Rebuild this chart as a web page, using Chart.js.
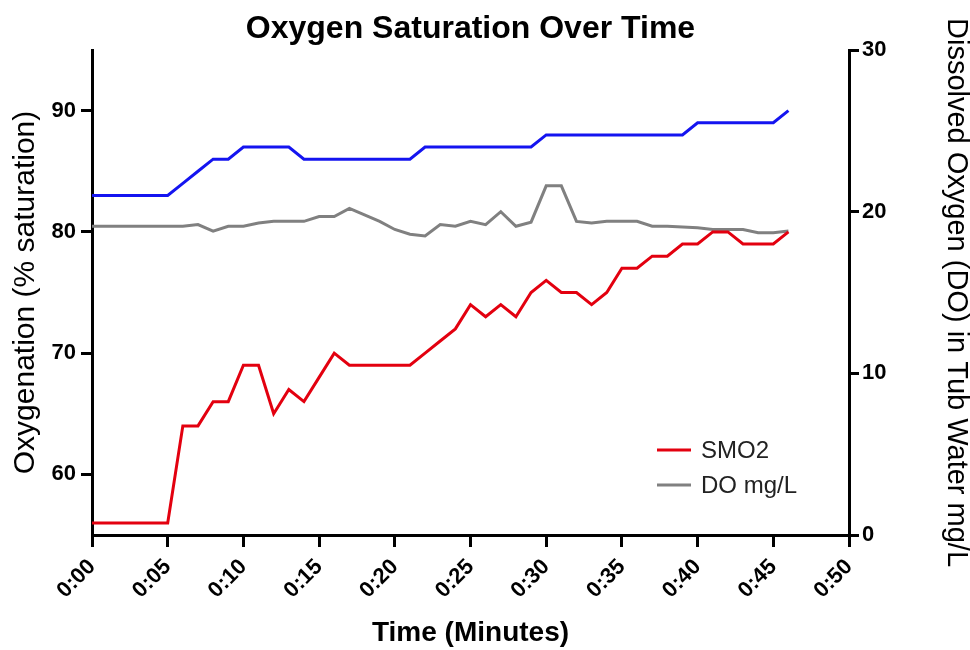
<!DOCTYPE html>
<html>
<head>
<meta charset="utf-8">
<script src="https://cdn.jsdelivr.net/npm/chart.js@4.4.1/dist/chart.umd.min.js"></script>
<style>
  html, body { margin: 0; padding: 0; background: #ffffff; }
  #wrap { width: 970px; height: 650px; position: relative; }
</style>
</head>
<body>
<div id="wrap"><canvas id="c" width="970" height="650"></canvas></div>
<script>
// Time in minutes (one reading per minute)
const minutes = [0,1,2,3,4,5,6,7,8,9,10,11,12,13,14,15,16,17,18,19,20,21,22,23,24,25,26,27,28,29,30,31,32,33,34,35,36,37,38,39,40,41,42,43,44,45,46];

// SMO2 (% saturation), left axis
const smo2 = [56,56,56,56,56,56,64,64,66,66,69,69,65,67,66,68,70,69,69,69,69,69,70,71,72,74,73,74,73,75,76,75,75,74,75,77,77,78,78,79,79,80,80,79,79,79,80];

// Unlabelled blue series (% saturation), left axis
const blueSeries = [83,83,83,83,83,83,84,85,86,86,87,87,87,87,86,86,86,86,86,86,86,86,87,87,87,87,87,87,87,87,88,88,88,88,88,88,88,88,88,88,89,89,89,89,89,89,90];

// Dissolved oxygen (mg/L), right axis
const doMgL = [19.1,19.1,19.1,19.1,19.1,19.1,19.1,19.2,18.8,19.1,19.1,19.3,19.4,19.4,19.4,19.7,19.7,20.2,19.8,19.4,18.9,18.6,18.5,19.2,19.1,19.4,19.2,20.0,19.1,19.35,21.6,21.6,19.4,19.3,19.4,19.4,19.4,19.1,19.1,19.05,19.0,18.9,18.9,18.9,18.7,18.7,18.8];

// Tick values
const leftTicks = [60, 70, 80, 90];
const rightTicks = [0, 10, 20, 30];
const xTicks = [0, 5, 10, 15, 20, 25, 30, 35, 40, 45, 50];

const pts = (arr) => minutes.map((m, i) => ({ x: m, y: arr[i] }));
const fmtTime = (v) => '0:' + String(v).padStart(2, '0');

const legendItems = [
  { label: 'SMO2', color: '#e3000f' },
  { label: 'DO mg/L', color: '#808080' }
];

const FONT = '"Liberation Sans", Arial, sans-serif';

const insideLegend = {
  id: 'insideLegend',
  afterDatasetsDraw(chart) {
    const ctx = chart.ctx;
    const a = chart.chartArea;
    ctx.save();
    ctx.font = '24px ' + FONT;
    ctx.textBaseline = 'middle';
    ctx.textAlign = 'left';
    legendItems.forEach((it, i) => {
      const y = a.bottom - 85 + i * 35;
      const x0 = a.left + 565;
      ctx.strokeStyle = it.color;
      ctx.lineWidth = 3;
      ctx.beginPath();
      ctx.moveTo(x0, y);
      ctx.lineTo(x0 + 34, y);
      ctx.stroke();
      ctx.fillStyle = '#222222';
      ctx.fillText(it.label, x0 + 44, y + 1);
    });
    ctx.restore();
  }
};

const black = '#000000';
const tickFont = { family: FONT, size: 22, weight: 'bold' };

new Chart(document.getElementById('c'), {
  type: 'line',
  data: {
    datasets: [
      { label: 'SMO2', data: pts(smo2), yAxisID: 'yL', borderColor: '#e3000f', borderWidth: 3, pointRadius: 0, tension: 0 },
      { label: 'DO mg/L', data: pts(doMgL), yAxisID: 'yR', borderColor: '#808080', borderWidth: 3, pointRadius: 0, tension: 0 },
      { label: 'Series 3', data: pts(blueSeries), yAxisID: 'yL', borderColor: '#1414f0', borderWidth: 3, pointRadius: 0, tension: 0 }
    ]
  },
  options: {
    responsive: false,
    animation: false,
    devicePixelRatio: 1,
    layout: { padding: { left: 0, right: 0, top: 0, bottom: 0 } },
    plugins: {
      legend: { display: false },
      tooltip: { enabled: false },
      title: {
        display: true,
        text: 'Oxygen Saturation Over Time',
        fullSize: false,
        color: black,
        font: { family: FONT, size: 32, weight: 'bold', lineHeight: 1.2 },
        padding: { top: 10, bottom: 1.6 }
      }
    },
    scales: {
      x: {
        type: 'linear',
        position: 'bottom',
        min: 0, max: 50,
        afterBuildTicks: (s) => { s.ticks = xTicks.map(v => ({ value: v })); },
        afterFit: (s) => { s.height = 115; },
        ticks: {
          callback: (v) => fmtTime(v),
          color: black, font: tickFont,
          minRotation: 45, maxRotation: 45, padding: 7, autoSkip: false
        },
        grid: { drawOnChartArea: false, color: black, lineWidth: 3, tickLength: 12 },
        border: { display: true, color: black, width: 3 },
        title: {
          display: true, text: 'Time (Minutes)', color: black,
          font: { family: FONT, size: 28, weight: 'bold', lineHeight: 1.2 },
          padding: { top: 1, bottom: 0 }
        }
      },
      yL: {
        type: 'linear',
        position: 'left',
        min: 55, max: 95,
        afterBuildTicks: (s) => { s.ticks = leftTicks.map(v => ({ value: v })); },
        afterFit: (s) => { s.width = 92; },
        ticks: { color: black, font: tickFont, padding: 5 },
        grid: { drawOnChartArea: false, color: black, lineWidth: 3, tickLength: 11 },
        border: { display: true, color: black, width: 3 },
        title: {
          display: true, text: 'Oxygenation (% saturation)', color: black,
          font: { family: FONT, size: 30, weight: 'normal', lineHeight: 1.0 },
          padding: { top: 11, bottom: 0 }
        }
      },
      yR: {
        type: 'linear',
        position: 'right',
        min: 0, max: 30,
        afterBuildTicks: (s) => { s.ticks = rightTicks.map(v => ({ value: v })); },
        afterFit: (s) => { s.width = 121; },
        ticks: { color: black, font: tickFont, padding: 3 },
        grid: { drawOnChartArea: false, color: black, lineWidth: 3, tickLength: 10 },
        border: { display: true, color: black, width: 3 },
        title: {
          display: true, text: 'Dissolved Oxygen (DO) in Tub Water mg/L', color: black,
          font: { family: FONT, size: 29, weight: 'normal', lineHeight: 1.0 },
          padding: { top: 0, bottom: 0 }
        }
      }
    }
  },
  plugins: [insideLegend]
});
</script>
</body>
</html>
